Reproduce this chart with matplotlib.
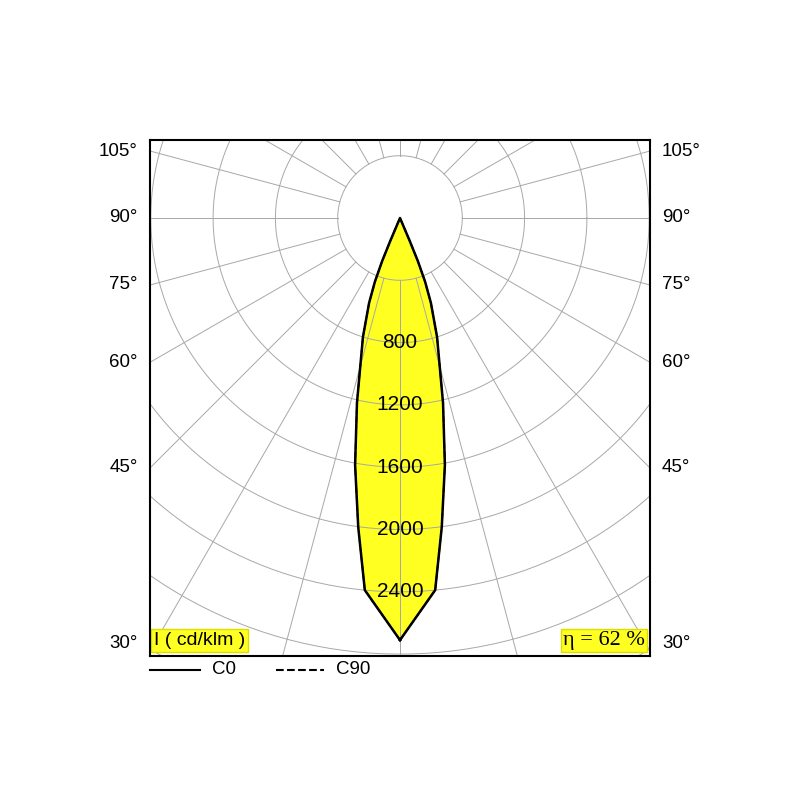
import numpy as np
import matplotlib
matplotlib.use("Agg")
import matplotlib.pyplot as plt

plt.rcParams['font.family'] = ['Liberation Sans', 'DejaVu Sans']

# luminous intensity (cd/klm) vs angle from nadir (deg), C0 plane
angles = [0, 2.4, 5.4, 7.7, 10.3, 13.1, 17.3, 20, 21.5, 22.5, 23, 23.3]
c0 = [2710, 2560, 2400, 2002, 1612, 1219, 800, 580, 440, 300, 160, 0]
c90 = c0
rings = [400, 800, 1200, 1600, 2000, 2400, 2800, 3200, 3600, 4000]
ring_labels = [800, 1200, 1600, 2000, 2400]
side_angles = [30, 45, 60, 75, 90, 105]

fig = plt.figure(figsize=(8, 8), dpi=100)
ax = fig.add_axes([0.1875, 0.18, 0.625, 0.645])
s = 400 / 62.3
ax.set_xlim(-250 * s, 250 * s)
ax.set_ylim(-438 * s, 78 * s)
ax.set_xticks([]); ax.set_yticks([])
for sp in ax.spines.values():
    sp.set_linewidth(1.5)
    sp.set_zorder(10)

grid = "#a8a8a8"
t = np.linspace(0, 2 * np.pi, 400)
for r in rings:
    ax.plot(r * np.cos(t), r * np.sin(t), color=grid, lw=0.7, zorder=2)
for a in range(0, 181, 15):
    th = np.radians(a)
    for sgn in (1, -1):
        ax.plot([sgn * 400 * np.sin(th), sgn * 6000 * np.sin(th)],
                [-400 * np.cos(th), -6000 * np.cos(th)], color=grid, lw=0.7, zorder=2)

def curve(ang, val):
    a = np.r_[np.radians(ang), -np.radians(ang[::-1])]
    v = np.r_[val, val[::-1]]
    return v * np.sin(a), -v * np.cos(a)

x, y = curve(angles, c0)
ax.fill(x, y, color="#ffff22", zorder=1)
ax.plot(x, y, color="black", lw=1.8, zorder=4)
x2, y2 = curve(angles, c90)
ax.plot(x2, y2, color="black", lw=1.2, ls="--", zorder=4)

for r in ring_labels:
    ax.text(0, -r, str(r), ha="center", va="center", fontsize=15, zorder=5)

for a in side_angles:
    th = np.radians(a)
    yy = -250 * s / np.tan(th) if a != 90 else 0
    if a == 30:
        yy = -425 * s
    for xx, ha in ((-262 * s, "right"), (262 * s, "left")):
        ax.text(xx, yy, f"{a}°", ha=ha, va="center", fontsize=13.5, clip_on=False)

ax.text(0.008, 0.03, "I ( cd/klm )", transform=ax.transAxes, fontsize=14, va="center",
        bbox=dict(facecolor="#ffff22", edgecolor="#dddd00", pad=2), zorder=6)
ax.text(0.99, 0.03, "η = 62 %", transform=ax.transAxes, fontsize=16, va="center", ha="right",
        family="Liberation Serif",
        bbox=dict(facecolor="#ffff22", edgecolor="#dddd00", pad=1.5), zorder=6)

fig.add_artist(plt.Line2D([0.1875, 0.25], [0.1625, 0.1625], color="black", lw=1.5))
fig.text(0.265, 0.1625, "C0", fontsize=13.5, va="center")
fig.add_artist(plt.Line2D([0.345, 0.405], [0.1625, 0.1625], color="black", lw=1.5, ls="--"))
fig.text(0.42, 0.1625, "C90", fontsize=13.5, va="center")

fig.savefig("out.png")
